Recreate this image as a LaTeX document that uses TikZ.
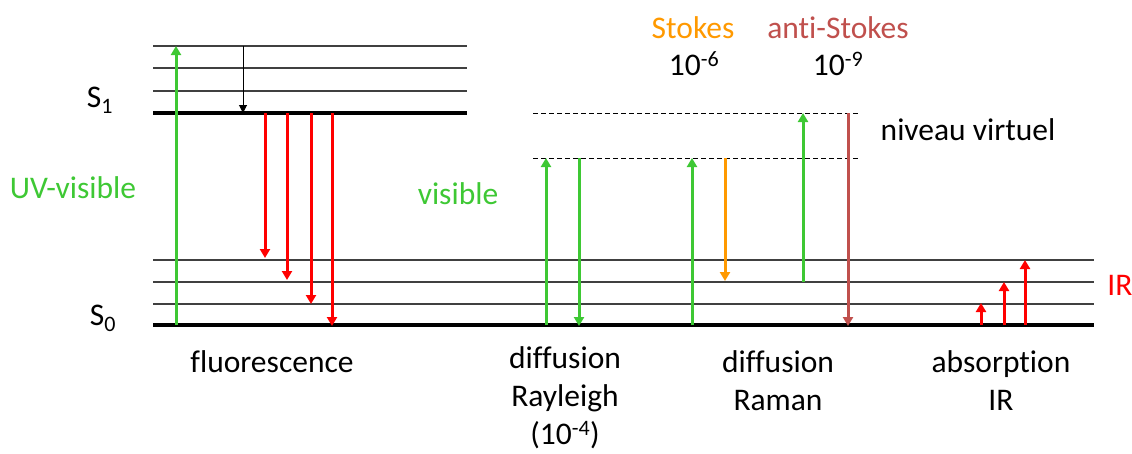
\documentclass[tikz,border=0pt]{standalone}
\usepackage{fontspec}
\setmainfont[Ligatures=NoCommon]{Carlito}
\usetikzlibrary{arrows.meta}
\definecolor{vert}{RGB}{62,200,52}
\definecolor{rouge}{RGB}{255,0,0}
\definecolor{orangeS}{RGB}{255,153,0}
\definecolor{brunAS}{RGB}{192,80,77}
\begin{document}
\begin{tikzpicture}[x=1pt,y=-1pt,
	every node/.style={font=\fontsize{31.5}{38}\selectfont,inner sep=0pt},
	sublevel/.style={line width=1.3pt,draw=black!75},
	mainlevel/.style={line width=4pt,draw=black},
	virtuel/.style={line width=0.9pt,dash pattern=on 5pt off 3pt},
	trans/.style={line width=3pt,-{Triangle[width=10pt,length=9pt]}},
	relax/.style={line width=1pt,-{Triangle[width=8pt,length=8pt]}}]
\useasboundingbox (0,0) rectangle (1132,453);
% niveaux S1
\foreach \y in {46,68,91}
	\draw[sublevel] (153,\y) -- (467,\y);
\draw[mainlevel] (153,113) -- (467,113);
% niveaux S0
\foreach \y in {260,282,304}
	\draw[sublevel] (153,\y) -- (1094,\y);
\draw[mainlevel] (153,325) -- (1094,325);
% niveaux virtuels
\draw[virtuel] (533,113) -- (859,113);
\draw[virtuel] (533,158) -- (859,158);
% fluorescence
\coordinate (uv0) at (176,325);
\coordinate (uv1) at (176,46);
\draw[trans,vert] (uv0) -- (uv1);
\coordinate (rel0) at (243,46);
\coordinate (rel1) at (243,113);
\draw[relax] (rel0) -- (rel1);
\foreach \x/\y/\n in {265/258/1,287/280/2,311/304/3,332/326/4}{
	\coordinate (fl\n a) at (\x,113);
	\coordinate (fl\n b) at (\x,\y);
	\draw[trans,rouge] (fl\n a) -- (fl\n b);
}
% Rayleigh
\coordinate (ray0) at (546,325);
\coordinate (ray1) at (546,158);
\coordinate (ray2) at (579,158);
\coordinate (ray3) at (579,326);
\draw[trans,vert] (ray0) -- (ray1);
\draw[trans,vert] (ray2) -- (ray3);
% Raman
\coordinate (st0) at (692,325);
\coordinate (st1) at (692,158);
\coordinate (st2) at (725,158);
\coordinate (st3) at (725,281);
\draw[trans,vert] (st0) -- (st1);
\draw[trans,orangeS] (st2) -- (st3);
\coordinate (as0) at (803,282);
\coordinate (as1) at (803,113);
\coordinate (as2) at (848,113);
\coordinate (as3) at (848,326);
\draw[trans,vert] (as0) -- (as1);
\draw[trans,brunAS] (as2) -- (as3);
% absorption IR
\foreach \x/\y/\n in {981/303/1,1004/282/2,1025/260/3}{
	\coordinate (ir\n a) at (\x,325);
	\coordinate (ir\n b) at (\x,\y);
	\draw[trans,rouge] (ir\n a) -- (ir\n b);
}
% textes
\node (S1) at (100,100) {S\textsubscript{1}};
\node (S0) at (103,318) {S\textsubscript{0}};
\node[text=vert] (uvvis) at (73,188) {UV-visible};
\node[text=vert] (vis) at (458,194) {visible};
\node[text=orangeS] (stokes) at (693,28) {Stokes};
\node (pst) at (694,64) {10\textsuperscript{-6}};
\node[text=brunAS] (astokes) at (838,28) {anti-Stokes};
\node (past) at (838,64) {10\textsuperscript{-9}};
\node (virt) at (968,130) {niveau virtuel};
\node[text=rouge] (irl) at (1120,285) {IR};
\node (fluo) at (272,362) {fluorescence};
\node[align=center] (rayl) at (565,398) {diffusion\\Rayleigh\\(10\textsuperscript{-4})};
\node[align=center] (ram) at (778,381) {diffusion\\Raman};
\node[align=center] (abs) at (1001,381) {absorption\\IR};
\end{tikzpicture}
\end{document}
